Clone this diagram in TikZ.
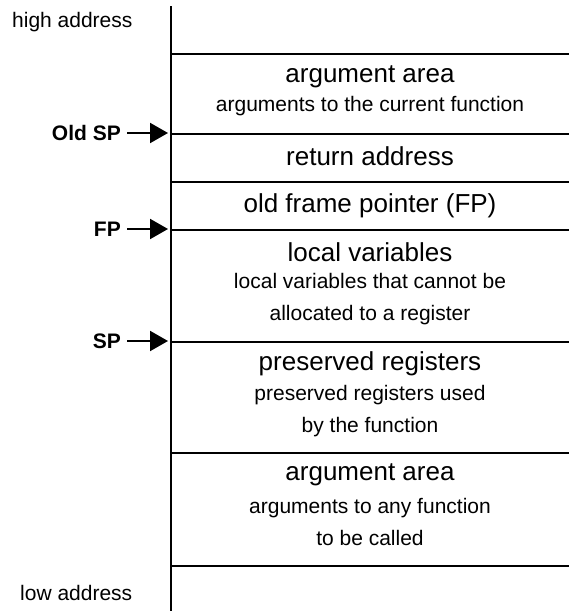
\documentclass[tikz,border=0pt]{standalone}
\usepackage{fontspec}
\setmainfont{Liberation Sans}
\usetikzlibrary{arrows.meta}

\begin{document}
\begin{tikzpicture}[x=1pt, y=-1pt,
    wall/.style={line width=2pt},
    title/.style={font=\fontsize{26}{30}\selectfont, inner sep=0pt},
    note/.style={font=\fontsize{21}{32}\selectfont, align=center, inner sep=0pt},
    side/.style={font=\fontsize{21}{24}\selectfont, inner sep=0pt},
    ptr/.style={font=\fontsize{21}{24}\selectfont\bfseries, inner sep=0pt, anchor=east},
    ptrarrow/.style={line width=2pt, -{Triangle[length=18pt, width=20pt]}, shorten <=6pt, shorten >=3pt}]
    \fill[white] (0, 0) rectangle (569, 611);
    \useasboundingbox (0, 0) rectangle (569, 611);
    % the stack wall and the frame dividers
    \coordinate (top) at (171, 6);
    \coordinate (bot) at (171, 611);
    \coordinate (d1) at (171, 54);
    \coordinate (d2) at (171, 134);
    \coordinate (d3) at (171, 182);
    \coordinate (d4) at (171, 230);
    \coordinate (d5) at (171, 342);
    \coordinate (d6) at (171, 453);
    \coordinate (d7) at (171, 566);
    \draw[wall] (top) -- (bot);
    \draw[wall] (d1) -- ++(400, 0);
    \draw[wall] (d2) -- ++(400, 0);
    \draw[wall] (d3) -- ++(400, 0);
    \draw[wall] (d4) -- ++(400, 0);
    \draw[wall] (d5) -- ++(400, 0);
    \draw[wall] (d6) -- ++(400, 0);
    \draw[wall] (d7) -- ++(400, 0);
    % address ends
    \node[side, anchor=west] (high) at (12, 22) {high address};
    \node[side, anchor=west] (low) at (20, 593) {low address};
    % frame contents
    \node[title] (argin) at (370, 77) {argument area};
    \node[note] (argintext) at (370, 106) {arguments to the current function};
    \node[title] (ret) at (370, 156) {return address};
    \node[title] (oldfp) at (370, 206) {old frame pointer (FP)};
    \node[title] (locals) at (370, 252) {local variables};
    \node[note] (localstext) at (370, 299) {local variables that cannot be\\allocated to a register};
    \node[title] (saved) at (370, 364) {preserved registers};
    \node[note] (savedtext) at (370, 411) {preserved registers used\\by the function};
    \node[title] (argout) at (370, 475) {argument area};
    \node[note] (argouttext) at (370, 522) {arguments to any function\\to be called};
    % pointers
    \node[ptr] (oldsp) at (121, 133) {Old SP};
    \node[ptr] (fp) at (121, 229) {FP};
    \node[ptr] (sp) at (121, 341) {SP};
    \draw[ptrarrow] (oldsp) -- (oldsp -| d2);
    \draw[ptrarrow] (fp) -- (fp -| d4);
    \draw[ptrarrow] (sp) -- (sp -| d5);
\end{tikzpicture}
\end{document}
